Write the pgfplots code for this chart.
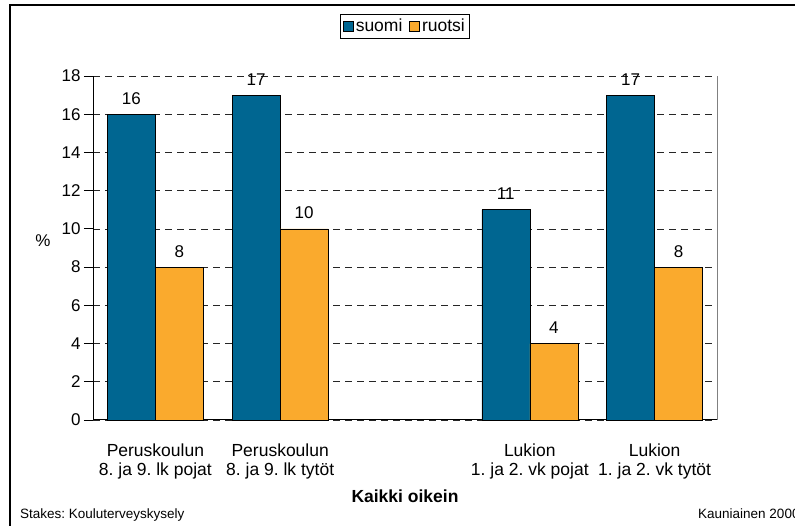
\documentclass[border=0pt]{standalone}
\usepackage{pgfplots}
\pgfplotsset{compat=1.18}
\usepackage{fontspec}
\setmainfont{Liberation Sans}
\frenchspacing
\definecolor{suomiblue}{RGB}{0,102,145}
\definecolor{ruotsiorange}{RGB}{250,170,45}
\begin{document}
\frenchspacing
\begin{tikzpicture}
\useasboundingbox (0pt,0pt) rectangle (795pt,526pt);
\fill[white] (0pt,0pt) rectangle (795pt,526pt);
\draw[line width=2pt] (10pt,-10pt) -- (10pt,520.5pt) -- (810pt,520.5pt);
\begin{axis}[
  at={(93pt,106pt)}, anchor=south west,
  scale only axis, width=624pt, height=344pt,
  xmin=-0.5, xmax=4.5, ymin=0, ymax=18,
  ytick={0,2,...,18},
  xtick={0,1,3,4},
  xticklabels={{Peruskoulun\\8. ja 9. lk pojat},{Peruskoulun\\8. ja 9. lk tytöt},{Lukion\\1. ja 2. vk pojat},{Lukion\\1. ja 2. vk tytöt}},
  xticklabel style={align=center, font=\fontsize{17.5}{19.5}\selectfont\frenchspacing, yshift=-11pt},
  yticklabel style={font=\fontsize{17}{19}\selectfont},
  /pgf/number format/assume math mode=true,
  axis x line=bottom, axis y line=left,
  axis line style={-, black, line width=1pt},
  x tick style={draw=none},
  y tick style={black, line width=0.8pt},
  major tick length=9pt,
  tick align=outside,
  ymajorgrids,
  grid style={black!85, line width=0.7pt, dash pattern=on 7pt off 5pt},
  ybar=0pt, bar width=48pt,
  nodes near coords,
  every node near coord/.append style={font=\fontsize{17}{19}\selectfont, anchor=south, inner sep=0pt, yshift=9.5pt, black},
  legend columns=2,
  legend style={at={(0.5,1)}, anchor=center, yshift=50pt, draw=black, line width=0.8pt, font=\fontsize{17.5}{20}\selectfont, inner sep=3pt, /tikz/every even column/.append style={column sep=5pt}},
  legend image code/.code={\draw[#1, line width=0.6pt] (0pt,-5pt) rectangle (10pt,5pt);},
  clip=false,
]
\addplot[fill=suomiblue, draw=black, line width=0.6pt] coordinates {(0,16) (1,17) (3,11) (4,17)};
\addplot[fill=ruotsiorange, draw=black, line width=0.6pt] coordinates {(0,8) (1,10) (3,4) (4,8)};
\legend{suomi, ruotsi}
\draw[gray, line width=1pt] (rel axis cs:1,0) -- (rel axis cs:1,1);
\end{axis}
\node[anchor=center, font=\fontsize{17}{19}\selectfont] at (43pt,285pt) {\%};
\node[anchor=base, font=\bfseries\fontsize{17.5}{20}\selectfont] at (405pt,23pt) {Kaikki oikein};
\node[anchor=base west, inner sep=0pt, font=\fontsize{13.5}{16}\selectfont\frenchspacing] at (20pt,7pt) {Stakes: Kouluterveyskysely};
\node[anchor=base west, inner sep=0pt, font=\fontsize{13.5}{16}\selectfont] at (698pt,7pt) {Kauniainen 2000};
\end{tikzpicture}
\end{document}
